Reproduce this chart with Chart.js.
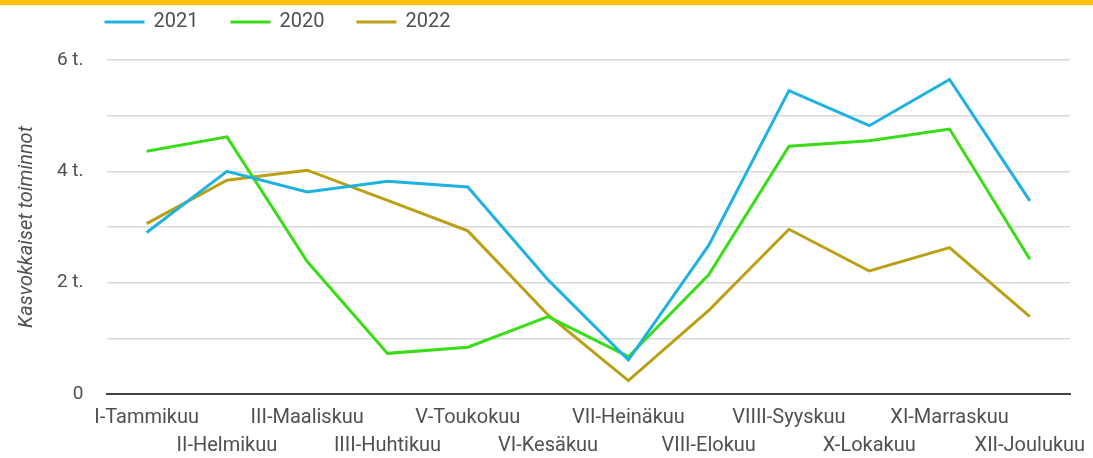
<!DOCTYPE html>
<html lang="fi">
<head>
    <meta charset="UTF-8">
    <title>Kasvokkaiset toiminnot</title>
    <style>
        body {
            margin: 0;
            background: white;
            font-family: Roboto, sans-serif;
        }

        .top-bar {
            width: 1093px;
            height: 5px;
            background-color: #FFC20E;
        }

        .chart-box {
            position: relative;
            width: 1093px;
            height: 453px;
        }
    </style>
</head>
<body>
    <div class="top-bar"></div>
    <div class="chart-box"><canvas id="chart"></canvas></div>

    <script src="https://cdn.jsdelivr.net/npm/chart.js@4"></script>
    <script>
        const months = ['I-Tammikuu', 'II-Helmikuu', 'III-Maaliskuu', 'IIII-Huhtikuu', 'V-Toukokuu', 'VI-Kesäkuu',
            'VII-Heinäkuu', 'VIII-Elokuu', 'VIIII-Syyskuu', 'X-Lokakuu', 'XI-Marraskuu', 'XII-Joulukuu'];
        const values2021 = [2900, 4000, 3630, 3820, 3720, 2050, 610, 2670, 5450, 4820, 5650, 3470];
        const values2020 = [4360, 4620, 2380, 730, 840, 1390, 670, 2140, 4450, 4550, 4760, 2420];
        const values2022 = [3060, 3840, 4020, 3480, 2930, 1420, 240, 1500, 2960, 2210, 2630, 1390];
        const yTickValues = [0, 2000, 4000, 6000];
        const yTickLabels = ['0', '2 t.', '4 t.', '6 t.'];

        const textColor = '#505050';
        const fontSize = 20;

        // simple line legend at the top, starting from the plot's left edge
        const topLegend = {
            id: 'topLegend',
            afterDraw(chart) {
                const ctx = chart.ctx;
                let x = chart.chartArea.left - 2;
                const y = 17;
                ctx.save();
                ctx.font = fontSize + 'px Roboto';
                ctx.textBaseline = 'middle';
                ctx.textAlign = 'left';
                chart.data.datasets.forEach(function(ds) {
                    ctx.fillStyle = ds.borderColor;
                    ctx.fillRect(x, y - 1.5, 40, 3);
                    ctx.fillStyle = textColor;
                    ctx.fillText(ds.label, x + 49, y);
                    x += 49 + ctx.measureText(ds.label).width + 32;
                });
                ctx.restore();
            }
        };

        function line(label, color, data) {
            return {
                label: label,
                data: data,
                borderColor: color,
                backgroundColor: color,
                borderWidth: 3,
                pointRadius: 0,
                tension: 0,
                fill: false
            };
        }

        new Chart(document.getElementById('chart'), {
            type: 'line',
            data: {
                labels: months,
                datasets: [
                    line('2021', '#1FB1E2', values2021),
                    line('2020', '#38DD17', values2020),
                    line('2022', '#B9A014', values2022)
                ]
            },
            options: {
                responsive: true,
                maintainAspectRatio: false,
                animation: false,
                layout: { padding: { top: 55, right: 23, left: 0, bottom: 0 } },
                plugins: {
                    legend: { display: false },
                    tooltip: { enabled: false }
                },
                scales: {
                    x: {
                        offset: true,
                        grid: { display: false, drawTicks: false },
                        border: { display: true, color: '#444', width: 2 },
                        ticks: {
                            autoSkip: false,
                            maxRotation: 0,
                            minRotation: 0,
                            padding: 10,
                            color: textColor,
                            font: { family: 'Roboto', size: fontSize, lineHeight: 28 / fontSize },
                            callback: function(value, index) {
                                const l = this.getLabelForValue(value);
                                return index % 2 ? ['', l] : l;
                            }
                        },
                        afterFit: function(scale) {
                            scale.height = 64;
                            scale.paddingLeft = 0;
                            scale.paddingRight = 0;
                        }
                    },
                    y: {
                        min: 0,
                        max: 6000,
                        border: { display: false },
                        grid: {
                            drawTicks: false,
                            color: ctx => ctx.tick.value === 0 ? '#444' : '#d9d9d9',
                            lineWidth: ctx => ctx.tick.value === 0 ? 2 : 1.5
                        },
                        ticks: {
                            stepSize: 1000,
                            padding: 23,
                            color: textColor,
                            font: { family: 'Roboto', size: 19 },
                            callback: function(value) {
                                const i = yTickValues.indexOf(value);
                                return i >= 0 ? yTickLabels[i] : '';
                            }
                        },
                        title: {
                            display: true,
                            text: 'Kasvokkaiset toiminnot',
                            color: textColor,
                            padding: { top: 15, bottom: 0 },
                            font: { family: 'Roboto', size: fontSize, style: 'italic', weight: 'normal' }
                        },
                        afterFit: function(scale) { scale.width = 106.5; }
                    }
                }
            },
            plugins: [topLegend]
        });
    </script>
</body>
</html>
